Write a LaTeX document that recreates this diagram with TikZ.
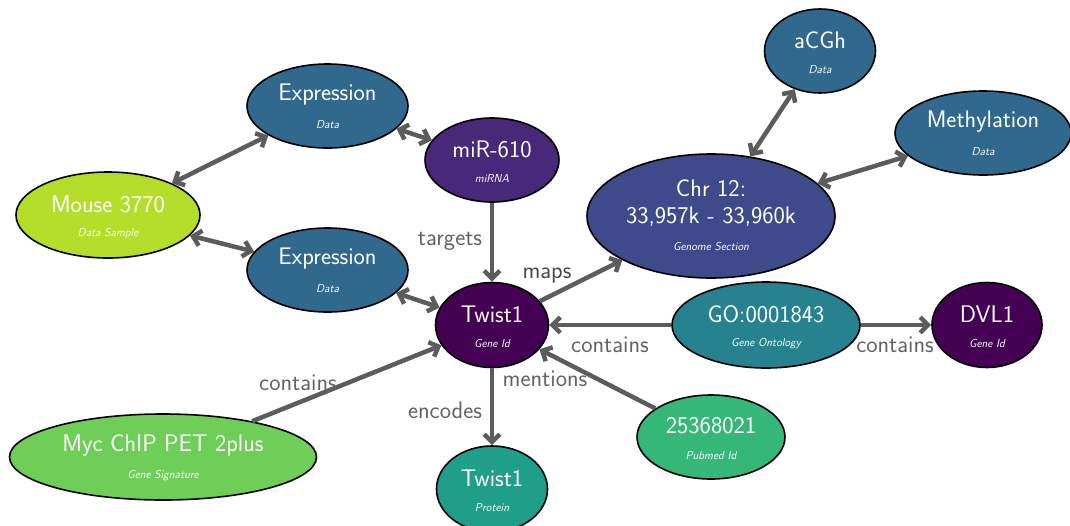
\documentclass[tikz,border=0pt]{standalone}
\usetikzlibrary{shapes.geometric,arrows.meta}
\definecolor{vA}{HTML}{440154}
\definecolor{vB}{HTML}{482878}
\definecolor{vC}{HTML}{3E4A89}
\definecolor{vD}{HTML}{31688E}
\definecolor{vE}{HTML}{26828E}
\definecolor{vF}{HTML}{1F9E89}
\definecolor{vG}{HTML}{35B779}
\definecolor{vH}{HTML}{6ECE58}
\definecolor{vI}{HTML}{B5DE2B}
\definecolor{edgegray}{HTML}{5C5C5C}
\definecolor{labgray}{HTML}{636363}
\tikzset{
  ent/.style={ellipse, draw=black, line width=1.6pt, inner sep=0pt},
  maintxt/.style={text=white, font=\sffamily\fontsize{24}{28}\selectfont, inner sep=0pt},
  subtxt/.style={text=white, font=\sffamily\itshape\fontsize{11.5}{13}\selectfont, inner sep=0pt},
  rel/.style={draw=edgegray, line width=4.5pt, -{Straight Barb[angle=90:11pt]}},
  birel/.style={draw=edgegray, line width=4.5pt, {Straight Barb[angle=90:11pt]}-{Straight Barb[angle=90:11pt]}},
  lab/.style={text=labgray, font=\sffamily\fontsize{24}{28}\selectfont, inner sep=0pt},
}
\newcommand\entity[7]{%
  \node[ent, fill=#3, minimum width=#4, minimum height=#5] (#1) at (#2) {};
  \node[maintxt] at ([yshift=11pt]#1.center) {#6};
  \node[subtxt] at ([yshift=-19pt]#1.center) {#7};}
\begin{document}
\begin{tikzpicture}[x=1pt,y=-1pt]
\useasboundingbox (0,0) rectangle (1070,525);
\coordinate (cE1) at (327.5,106);
\coordinate (cMo) at (108,215);
\coordinate (cE2) at (327.5,270);
\coordinate (cMi) at (492,160);
\coordinate (cTg) at (492,325);
\coordinate (cCh) at (711,216);
\coordinate (cAC) at (820,51);
\coordinate (cMe) at (983,133);
\coordinate (cGO) at (766,325);
\coordinate (cDV) at (987,325);
\coordinate (cPM) at (711,437);
\coordinate (cMy) at (163,457);
\coordinate (cTp) at (492,489);

\entity{e1}{cE1}{vD}{161pt}{84pt}{Expression}{Data}
\entity{mo}{cMo}{vI}{184pt}{86pt}{Mouse 3770}{Data Sample}
\entity{e2}{cE2}{vD}{161pt}{84pt}{Expression}{Data}
\entity{mi}{cMi}{vB}{134pt}{84pt}{miR-610}{miRNA}
\entity{tg}{cTg}{vA}{113pt}{85pt}{Twist1}{Gene Id}
\node[ent, fill=vC, minimum width=248pt, minimum height=124pt] (ch) at (cCh) {};
\node[maintxt] at ([yshift=28pt]ch.center) {Chr 12:};
\node[maintxt] at ([yshift=-1pt]ch.center) {33,957k - 33,960k};
\node[subtxt] at ([yshift=-31pt]ch.center) {Genome Section};
\entity{ac}{cAC}{vD}{111pt}{84pt}{aCGh}{Data}
\entity{me}{cMe}{vD}{176pt}{84pt}{Methylation}{Data}
\entity{go}{cGO}{vE}{188pt}{86pt}{GO:0001843}{Gene Ontology}
\entity{dv}{cDV}{vA}{110pt}{85pt}{DVL1}{Gene Id}
\entity{pm}{cPM}{vG}{148pt}{84pt}{25368021}{Pubmed Id}
\entity{my}{cMy}{vH}{307pt}{86pt}{Myc ChIP PET 2plus}{Gene Signature}
\entity{tp}{cTp}{vF}{111pt}{86pt}{Twist1}{Protein}

\draw[birel] (mo) -- (e1);
\draw[birel] (mo) -- (e2);
\draw[birel] (e1) -- (mi);
\draw[birel] (e2) -- (tg);
\draw[rel] (mi) -- (tg);
\draw[rel] (tg) -- (ch);
\draw[rel] (go) -- (tg);
\draw[rel] (go) -- (dv);
\draw[rel] (pm) -- (tg);
\draw[rel] (my) -- (tg);
\draw[rel] (tg) -- (tp);
\draw[birel] (ch) -- (ac);
\draw[birel] (ch) -- (me);

\node[lab] (l1) at (450,241) {targets};
\node[lab, text=edgegray!80!black] (l2) at (547,276) {maps};
\node[lab] (l3) at (610,345) {contains};
\node[lab] (l4) at (895,345) {contains};
\node[lab] (l5) at (545,379) {mentions};
\node[lab] (l6) at (298,383) {contains};
\node[lab] (l7) at (445,410) {encodes};
\end{tikzpicture}
\end{document}
